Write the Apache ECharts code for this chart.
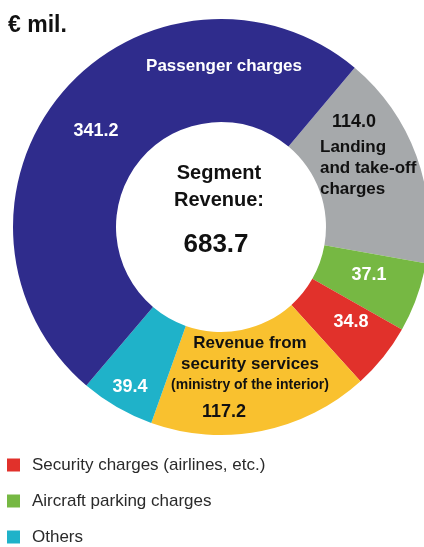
<!DOCTYPE html>
<html>
<head>
<meta charset="utf-8">
<script src="https://cdn.jsdelivr.net/npm/echarts@6/dist/echarts.min.js"></script>
<style>
  html, body { margin: 0; padding: 0; background: #fff; }
  #chart { width: 424px; height: 547px; }
</style>
</head>
<body>
<div id="chart"></div>
<script>
// segments, clockwise starting at the passenger / landing boundary
var categories = [
  'Landing and take-off charges',
  'Aircraft parking charges',
  'Security charges (airlines, etc.)',
  'Revenue from security services',
  'Others',
  'Passenger charges'
]
var values = [114.0, 37.1, 34.8, 117.2, 39.4, 341.2]
var legendItems = ['Security charges (airlines, etc.)', 'Aircraft parking charges', 'Others']

var colors = ['#a6a9ab', '#76b843', '#e1312b', '#f9c12f', '#1fb2c9', '#2f2c8c']
var valueColors = ['#111', '#fff', '#fff', '#111', '#fff', '#fff']

// label text placement (text only, not marks)
var valuePos = [[354, 122], [369, 275], [351, 322], [224, 412], [130, 387], [96, 131]]
var nameText = [
  '{b|Landing}\n{b|and take-off}\n{b|charges}',
  '', '',
  '{b|Revenue from}\n{b|security services}\n{s|(ministry of the interior)}',
  '',
  '{w|Passenger charges}'
]
var namePos = [[320, 168, 'left'], null, null, [250, 364, 'center'], null, [224, 66, 'center']]

var total = values.reduce(function (a, b) { return a + b }, 0)
var font = 'Liberation Sans, Arial, sans-serif'

var chart = echarts.init(document.getElementById('chart'))

var mainData = categories.map(function (c, i) {
  return {
    name: c,
    value: values[i],
    itemStyle: { color: colors[i] },
    label: { color: valueColors[i] }
  }
})
var nameData = categories.map(function (c, i) {
  return {
    name: c,
    value: values[i],
    label: { show: nameText[i] !== '', formatter: nameText[i] }
  }
})

chart.setOption({
  backgroundColor: '#fff',
  animation: false,
  title: {
    text: '€ mil.',
    left: 3,
    top: 9,
    textStyle: { fontFamily: font, fontSize: 23, fontWeight: 'bold', color: '#111' }
  },
  legend: {
    data: legendItems,
    orient: 'vertical',
    left: 7,
    top: 455,
    padding: 0,
    icon: 'rect',
    itemWidth: 13,
    itemHeight: 13,
    itemGap: 16,
    selectedMode: false,
    textStyle: { fontFamily: font, fontSize: 17, color: '#2a2a2a', lineHeight: 20, padding: [0, 0, 0, 7] }
  },
  graphic: [
    { type: 'text', x: 219, y: 173, style: { text: 'Segment', fill: '#111', font: 'bold 20px ' + font, align: 'center', verticalAlign: 'middle' } },
    { type: 'text', x: 219, y: 200, style: { text: 'Revenue:', fill: '#111', font: 'bold 20px ' + font, align: 'center', verticalAlign: 'middle' } },
    { type: 'text', x: 216, y: 245, style: { text: total.toFixed(1), fill: '#111', font: 'bold 26px ' + font, align: 'center', verticalAlign: 'middle' } }
  ],
  series: [
    {
      type: 'pie',
      center: [221, 227],
      radius: [105, 208],
      startAngle: 50,
      clockwise: true,
      avoidLabelOverlap: false,
      silent: true,
      itemStyle: { borderWidth: 0 },
      label: {
        show: true,
        position: 'inside',
        fontFamily: font,
        fontSize: 18,
        fontWeight: 'bold',
        formatter: function (p) { return p.value.toFixed(1) }
      },
      labelLine: { show: false },
      labelLayout: function (p) {
        var pos = valuePos[p.dataIndex]
        return { x: pos[0], y: pos[1], align: 'center', verticalAlign: 'middle' }
      },
      data: mainData
    },
    {
      type: 'pie',
      center: [221, 227],
      radius: [105, 208],
      startAngle: 50,
      clockwise: true,
      avoidLabelOverlap: false,
      silent: true,
      legendHoverLink: false,
      itemStyle: { color: 'rgba(0,0,0,0)' },
      label: {
        position: 'inside',
        fontFamily: font,
        rich: {
          b: { fontFamily: font, fontSize: 17, fontWeight: 'bold', color: '#111', lineHeight: 21 },
          s: { fontFamily: font, fontSize: 14, fontWeight: 'bold', color: '#111', lineHeight: 20 },
          w: { fontFamily: font, fontSize: 17, fontWeight: 'bold', color: '#fff', lineHeight: 20 }
        }
      },
      labelLine: { show: false },
      labelLayout: function (p) {
        var pos = namePos[p.dataIndex]
        if (!pos) return {}
        return { x: pos[0], y: pos[1], align: pos[2], verticalAlign: 'middle' }
      },
      data: nameData
    }
  ]
})
</script>
</body>
</html>
